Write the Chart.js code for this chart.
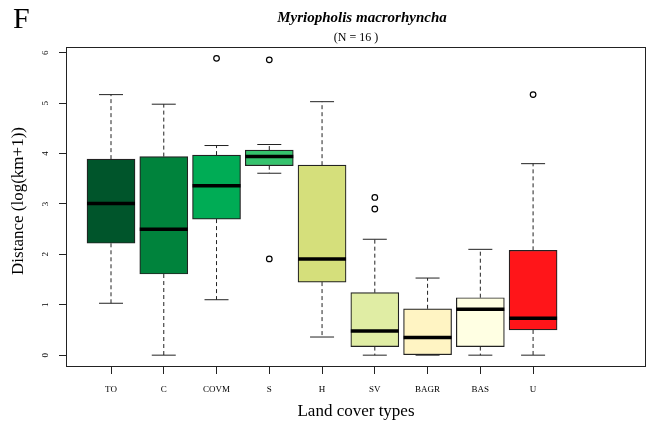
<!DOCTYPE html>
<html>
<head>
<meta charset="utf-8">
<script src="https://cdn.jsdelivr.net/npm/chart.js@4.4.1/dist/chart.umd.min.js"></script>
<style>
    html, body { margin: 0; padding: 0; background: #fff; }
    #wrap { width: 650px; height: 423px; }
</style>
</head>
<body>
<div id="wrap"><canvas id="chart" width="650" height="423"></canvas></div>
<script>
// values (log(km+1))
const categories = ['TO', 'C', 'COVM', 'S', 'H', 'SV', 'BAGR', 'BAS', 'U'];
const whiskerLow = [1.03, 0.00, 1.10, 3.61, 0.36, 0.00, 0.00, 0.00, 0.00];
const q1 = [2.22, 1.61, 2.70, 3.76, 1.45, 0.17, 0.00, 0.17, 0.50];
const medians = [3.01, 2.50, 3.36, 3.94, 1.91, 0.48, 0.35, 0.91, 0.73];
const q3 = [3.89, 3.94, 3.97, 4.07, 3.77, 1.24, 0.92, 1.14, 2.08];
const whiskerHigh = [5.17, 4.98, 4.16, 4.18, 5.03, 2.30, 1.53, 2.10, 3.80];
const outliers = [[], [], [5.89], [1.91, 5.86], [], [2.90, 3.13], [], [], [5.17]];
const yTicks = [0, 1, 2, 3, 4, 5, 6];
const boxColors = ['#00552b', '#00833c', '#00ac55', '#35c26d', '#d5df7b',
    '#e0eda4', '#fff4c3', '#ffffe3', '#ff1519'];

const serif = '"Liberation Serif", "DejaVu Serif", serif';
const ink = '#222';

let boxData = categories.map((c, i) => ({x: i + 1, y: [q1[i], q3[i]]}));
let medianData = categories.map((c, i) => ({x: i + 1, y: medians[i]}));
let capData = [];
let whiskerData = [];
categories.forEach((c, i) => {
    capData.push({x: i + 1, y: whiskerLow[i]}, {x: i + 1, y: whiskerHigh[i]});
    whiskerData.push({x: i + 1, y: q3[i]}, {x: i + 1, y: whiskerHigh[i]}, {x: i + 1, y: null});
    whiskerData.push({x: i + 1, y: q1[i]}, {x: i + 1, y: whiskerLow[i]}, {x: i + 1, y: null});
});
let outlierData = [];
outliers.forEach((list, i) => list.forEach(v => outlierData.push({x: i + 1, y: v})));

const textPlugin = {
    id: 'texts',
    afterDraw(chart) {
        const c = chart.ctx;
        const a = chart.chartArea;
        c.save();
        c.strokeStyle = ink;
        c.lineWidth = 1;
        c.strokeRect(a.left + 0.5, a.top + 0.5, a.right - a.left - 1, a.bottom - a.top - 1);
        c.fillStyle = '#000';
        c.textBaseline = 'middle';
        c.textAlign = 'left';
        c.font = '30px ' + serif;
        c.fillText('F', 13, 20);
        c.textAlign = 'center';
        c.font = 'italic bold 15px ' + serif;
        c.fillText('Myriopholis macrorhyncha', 362, 18);
        c.font = '12px ' + serif;
        c.fillText('(N = 16 )', 356, 38);
        // y axis title
        c.translate(19, 201);
        c.rotate(-Math.PI / 2);
        c.font = '17px ' + serif;
        c.fillText('Distance (log(km+1))', 0, 0);
        c.restore();
    }
};

const ctx = document.getElementById('chart').getContext('2d');
new Chart(ctx, {
    type: 'scatter',
    data: {
        datasets: [{
            type: 'bar',
            data: boxData,
            backgroundColor: boxColors,
            borderColor: ink,
            borderWidth: 1.2,
            borderSkipped: false,
            barThickness: 48,
            order: 3
        }, {
            type: 'line',
            data: whiskerData,
            borderColor: ink,
            borderWidth: 1,
            borderDash: [4, 3],
            pointRadius: 0,
            spanGaps: false,
            fill: false,
            order: 4
        }, {
            type: 'scatter',
            data: capData,
            pointStyle: 'line',
            pointRadius: 12,
            borderColor: ink,
            borderWidth: 1,
            order: 2
        }, {
            type: 'scatter',
            data: medianData,
            pointStyle: 'line',
            pointRadius: 24,
            borderColor: '#000',
            borderWidth: 3.5,
            order: 1
        }, {
            type: 'scatter',
            data: outlierData,
            pointStyle: 'circle',
            pointRadius: 2.8,
            backgroundColor: '#fff',
            borderColor: '#000',
            borderWidth: 1.2,
            order: 1
        }]
    },
    options: {
        responsive: false,
        animation: false,
        layout: {autoPadding: false, padding: {left: 0, top: 47, right: 4, bottom: 0}},
        plugins: {legend: {display: false}, tooltip: {enabled: false}},
        scales: {
            x: {
                type: 'linear',
                min: 0.147,
                max: 11.14,
                offset: false,
                afterFit: (s) => { s.height = 56; },
                afterBuildTicks: (s) => { s.ticks = categories.map((c, i) => ({value: i + 1})); },
                grid: {offset: false, drawOnChartArea: false, drawTicks: true, tickLength: 7, color: ink},
                border: {display: false},
                ticks: {
                    autoSkip: false,
                    maxRotation: 0,
                    padding: 10,
                    color: '#000',
                    font: {family: serif, size: 9},
                    callback: (v) => categories[v - 1]
                },
                title: {
                    display: true,
                    text: 'Land cover types',
                    color: '#000',
                    font: {family: serif, size: 17},
                    padding: {top: 0, bottom: 1}
                }
            },
            y: {
                min: -0.235,
                max: 6.115,
                afterFit: (s) => { s.width = 66; },
                afterBuildTicks: (s) => { s.ticks = yTicks.map(v => ({value: v})); },
                grid: {drawOnChartArea: false, drawTicks: true, tickLength: 7, color: ink},
                border: {display: false},
                ticks: {
                    minRotation: 90,
                    maxRotation: 90,
                    crossAlign: 'center',
                    padding: 11,
                    color: '#000',
                    font: {family: serif, size: 9}
                }
            }
        }
    },
    plugins: [textPlugin]
});
</script>
</body>
</html>
